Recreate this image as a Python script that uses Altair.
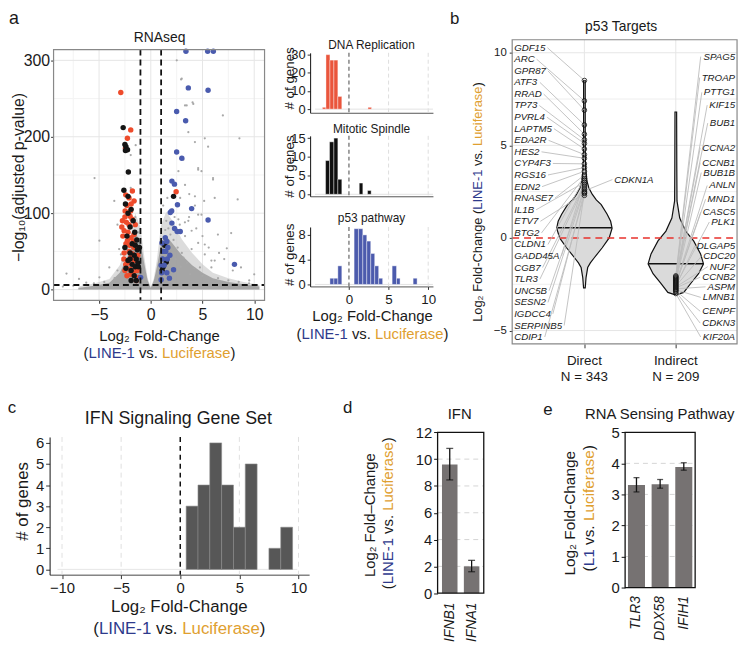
import altair as alt
import pandas as pd

W, H = 741, 644
M = 8
FONT = "Liberation Sans"
INK = "#1a1a1a"
C_L1 = "#2E3A8C"
C_LUC = "#DFA030"
C_RED = "#EE4B2B"
C_BLK = "#141414"
C_BLU = "#4A5BAE"
C_BAR = "#767272"
C_HIST = "#575757"

# ---------------- data: panel a volcano ----------------
grey_x = [-5.44, -3.53, -4.97, -6.94, -8.15, -3.06, 2.51, 2.93, 3.47, 4.04, 3.63, 4.27, 4.58, 5.22, 6.02, 6.97,
          8.57, 8.4, 7.77, 7.35, 10.0, 2.67, 4.9, 5.22, 3.95, 4.58, 6.18, 3.15, 2.51, 5.16, 3.72, 4.27, 3.31,
          5.86, 8.72, 7.93, 9.52, -4.97, -3.22, -2.74, -4.01, -6.24, -1.94, -1.46, -1.94, -1.46, 2.99, 4.11,
          3.31, 5.54, 4.58, 4.9, 6.02, 2.67, 3.31, 4.27, 2.84, 6.18, 4.58, 3.63, 6.49, 5.22, 3.95, 3.15, 5.86,
          4.75, -3.22, -2.89, 1.5, 1.7, 1.9, 2.2, 1.4, 2.6, 3.0, 2.4, 3.5, 1.8, 2.9, 4.2, 3.8, 5.0, 6.5, 7.5,
          8.5, 9.5, -1.2, -1.0, -0.9, -1.5, -2.9, -3.5, -4.5, -5.5, -6.5, -7.5, -8.5, 1.2, 1.6, 2.1, 2.3, 2.8,
          3.3, 3.7, 4.4, 5.0, 5.6, 6.6, 7.1]
grey_y = [146, 116, 16, 14, 21, 53, 300, 275, 241, 245, 206, 193, 157, 198, 144, 228,
          198, 118, 74, 54, 20, 92, 98, 46, 77, 61, 38, 170, 180, 116, 125, 110, 70,
          29, 29, 25, 12, 64, 85, 38, 29, 9, 176, 189, 133, 116, 276, 243,
          241, 187, 159, 155, 146, 155, 137, 122, 120, 120, 98, 90, 72, 59, 53, 42, 38,
          29, 25, 46, 90, 80, 72, 65, 78, 55, 48, 40, 35, 45, 30, 28, 20, 18, 15, 12,
          10, 8, 75, 60, 45, 95, 20, 15, 10, 8, 6, 5, 4, 110, 120, 105, 95, 85,
          88, 95, 80, 70, 55, 48, 40]
red_x = [-2.9, -1.94, -2.26, -2.45, -1.78, -2.42, -1.62, -2.48, -1.95, -2.74, -2.1, -2.58, -1.62, -2.26, -1.62,
         -2.58, -1.94, -2.42, -1.46, -1.94, -1.15, -1.4, -2.3, -2.0, -1.8, -2.5, -2.2, -1.9, -2.4, -1.7, -2.1,
         -1.8, -2.6, -2.2, -1.6, -2.0, -1.7, -2.3, -1.3, -1.25, -2.1, -1.9, 2.45, -2.7, -2.8, -2.35, -1.5,
         -2.05, -2.5]
red_y = [258, 209, 198, 185, 129, 124, 116, 103, 103, 90, 85, 77, 72, 64, 55,
         48, 42, 33, 29, 20, 16, 12, 110, 96, 92, 95, 75, 68, 60, 63, 50,
         47, 40, 35, 38, 27, 22, 18, 25, 45, 120, 112, 128, 70, 82, 88, 85,
         58, 25]
blk_x = [-2.67, -2.5, -2.4, -2.25, -2.45, -2.17, -2.6, -2.2, -2.45, -1.9, -2.2, -1.7, -2.0, -1.55, -2.3, -1.35,
         -1.8, -1.5, -2.5, -1.3, -2.0, -1.6, -1.4, -2.2, -1.8, -1.5, -2.4, -1.2, -1.9, -1.6, -1.4, -1.9, 2.2,
         1.35, 1.5, 1.2, 1.1, -1.1, -1.25, -2.0]
blk_y = [212, 190, 187, 183, 182, 154, 130, 122, 112, 105, 100, 90, 82, 75, 70, 65,
         60, 58, 55, 52, 48, 45, 40, 38, 33, 30, 28, 30, 25, 18, 12, 12, 122,
         58, 36, 30, 25, 55, 35, 40]
blu_x = [3.4, 5.5, 6.05, 3.63, 5.54, 2.5, 3.37, 2.5, 3.0, 2.04, 2.29, 2.58, 3.95, 1.88, 2.02, 5.54, 2.04, 2.3,
         2.55, 2.85, 1.08, 1.55, 1.65, 1.2, 1.45, 1.15, 1.6, 1.3, 1.0, 1.05, 1.55, 1.0, 2.2, 1.8, 8.09, -0.98,
         1.4, 1.85]
blu_y = [312, 312, 312, 264, 261, 233, 221, 180, 172, 142, 138, 111, 106, 101, 103, 91, 87, 80,
         76, 76, 61, 63, 55, 50, 50, 40, 40, 32, 32, 22, 22, 13, 26, 15, 33, 16,
         68, 45]
band_x = [-7.0, -5.5, -4.0, -3.0, -2.0, -1.5, -1.0, -0.6, -0.3, 0.0, 0.3, 0.6, 1.0, 1.5, 2.0, 3.0, 4.0, 5.0,
          6.0, 7.5, 9.0, 10.5]
band_top = [2, 5, 9, 22, 50, 75, 62, 32, 12, 2, 12, 30, 60, 70, 62, 45, 32, 22, 15, 10, 7, 4]
halo_top = [4, 8, 14, 32, 68, 100, 82, 40, 15, 3, 15, 40, 85, 102, 92, 66, 48, 33, 22, 15, 10, 6]

# ---------------- data: panel a histograms ----------------
dna_x0 = [-3.35, -2.9, -2.4, -1.9, -1.4, 2.4]
dna_x1 = [-2.9, -2.4, -1.9, -1.4, -0.9, 2.85]
dna_n = [1, 30, 27, 27, 7, 1]
mit_x0 = [-2.95, -2.45, -1.9, -1.4, 1.3, 2.35]
mit_x1 = [-2.45, -1.9, -1.4, -0.9, 1.75, 2.8]
mit_n = [9, 14, 15, 4, 3, 1]
p53_x0 = [-2.4, -1.9, -1.4, 0.65, 1.2, 1.75, 2.25, 2.75, 3.25, 3.75, 5.45, 6.0, 8.1]
p53_x1 = [-1.9, -1.4, -0.9, 1.2, 1.75, 2.25, 2.75, 3.25, 3.75, 4.25, 6.0, 6.45, 8.6]
p53_n = [1, 1, 3, 9, 9, 8, 7, 5, 3, 1, 3, 1, 1]

# ---------------- data: panel b violins ----------------
dir_v = [8.5, 6.0, 4.5, 3.75, 3.05, 2.7, 2.35, 2.05, 1.8, 1.28, 0.9, 0.53, 0.0, -0.53, -1.07, -1.35, -1.6,
         -2.14, -2.7]
dir_hw = [0.009, 0.009, 0.01, 0.013, 0.029, 0.049, 0.087, 0.13, 0.184, 0.249, 0.287, 0.303, 0.271, 0.195,
          0.108, 0.065, 0.036, 0.018, 0.009]
ind_v = [6.8, 3.7, 2.0, 1.07, 0.37, -0.16, -0.86, -1.4, -1.93, -2.46, -2.94, -3.05]
ind_hw = [0.009, 0.011, 0.013, 0.043, 0.108, 0.195, 0.271, 0.303, 0.249, 0.163, 0.087, 0.022]
med_g = [1, 2]
med_v = [0.55, -1.4]
med_hw = [0.30, 0.30]
dir_pts = [8.5, 7.4, 6.9, 6.1, 5.6, 5.3, 5.1, 4.8, 4.5, 4.3, 4.0, 3.8, 3.6, 3.4, 3.3, 3.2, 3.1, 3.0, 2.9, 2.8,
           2.7, 2.6, 2.5, 2.45, 2.4, 2.3]
ind_pts = [-2.05, -2.1, -2.15, -2.2, -2.25, -2.3, -2.35, -2.4, -2.45, -2.5, -2.55, -2.6, -2.65, -2.7, -2.75,
           -2.8, -2.85, -2.9, -3.0]
left_genes = ["GDF15", "ARC", "GPR87", "ATF3", "RRAD", "TP73", "PVRL4", "LAPTM5", "EDA2R", "HES2", "CYP4F3",
              "RGS16", "EDN2", "RNASE7", "IL1B", "ETV7", "BTG2", "CLDN1", "GADD45A", "CGB7", "TLR3", "UNC5B",
              "SESN2", "IGDCC4", "SERPINB5", "CDIP1"]
left_y = [10.27, 9.65, 9.02, 8.40, 7.77, 7.15, 6.52, 5.90, 5.27, 4.65, 4.02, 3.40, 2.77, 2.15, 1.52, 0.90,
          0.27, -0.35, -0.98, -1.60, -2.23, -2.85, -3.48, -4.10, -4.73, -5.35]
left_target = [8.5, 7.4, 6.9, 6.1, 5.6, 5.3, 5.1, 4.8, 4.5, 4.3, 4.0, 3.8, 3.6, 3.4, 3.0, 2.4, 3.3, 3.2, 3.1,
               2.9, 2.8, 2.7, 2.6, 2.5, 2.45, 2.3]
right_genes = ["SPAG5", "TROAP", "PTTG1", "KIF15", "BUB1", "CCNA2", "CCNB1", "BUB1B", "ANLN", "MND1", "CASC5",
               "PLK1", "DLGAP5", "CDC20", "NUF2", "CCNB2", "ASPM", "LMNB1", "CENPF", "CDKN3", "KIF20A"]
right_y = [9.79, 8.66, 7.86, 7.17, 6.20, 4.87, 4.06, 3.53, 2.83, 2.09, 1.39, 0.86, -0.43, -1.0, -1.55, -2.12,
           -2.64, -3.21, -3.96, -4.60, -5.35]
right_target = [-2.05, -2.1, -2.15, -2.2, -2.25, -2.3, -2.35, -2.4, -2.45, -2.5, -2.5, -2.55, -2.6, -2.6,
                -2.65, -2.7, -2.75, -2.8, -2.85, -2.9, -3.0]
cdk_gene = ["CDKN1A"]
cdk_lx = [1.326]
cdk_ly = [3.15]
cdk_px = [1.03]
cdk_py = [2.6]
groups = [1, 2]
group_name = ["Direct", "Indirect"]
group_n = ["N = 343", "N = 209"]

# ---------------- data: panel c ----------------
ifn_x0 = [0.5, 1.5, 2.5, 3.5, 4.5, 5.5, 7.5, 8.5]
ifn_x1 = [1.5, 2.5, 3.5, 4.5, 5.5, 6.5, 8.5, 9.5]
ifn_n = [3, 4, 6, 4, 2, 5, 1, 2]

# ---------------- data: panels d, e ----------------
d_genes = ["IFNB1", "IFNA1"]
d_val = [9.6, 2.0]
d_lo = [8.45, 1.6]
d_hi = [10.8, 2.45]
e_genes = ["TLR3", "DDX58", "IFIH1"]
e_val = [3.3, 3.33, 3.88]
e_lo = [3.08, 3.2, 3.78]
e_hi = [3.54, 3.48, 4.02]

# ---------------- helpers ----------------
AW = dict(zip("ABCDEFGHIJKLMNOPQRSTUVWXYZ",
              [667, 667, 722, 722, 667, 611, 778, 722, 278, 500, 667, 556, 833, 722, 778, 667, 778, 722, 667,
               611, 722, 667, 944, 667, 667, 611]))
AW.update(zip("abcdefghijklmnopqrstuvwxyz",
              [556, 556, 500, 556, 556, 278, 556, 556, 222, 222, 500, 222, 833, 556, 556, 556, 556, 333, 500,
               278, 556, 500, 722, 500, 500, 500]))
AW.update({d: 556 for d in "0123456789"})
AW.update({" ": 278, "(": 333, ")": 333, "-": 333, ".": 278, "=": 584, "#": 556, "\u2082": 400})


def tw(s, size):
    return sum(AW.get(c, 556) for c in s) * size / 1000.0


def P(v):
    return v - M


def S(dom, rng):
    return alt.Scale(domain=dom, range=[P(rng[0]), P(rng[1])], nice=False, zero=False)


ONE = pd.DataFrame({"k": [0]})
L = []


def T(t, x, y, size, color=INK, angle=0, align="center", baseline="middle", italic=False):
    kw = dict(text=t, fontSize=size, color=color, align=align, baseline=baseline, font=FONT)
    if angle:
        kw["angle"] = angle
    if italic:
        kw["fontStyle"] = "italic"
    L.append(alt.Chart(ONE).mark_text(**kw).encode(x=alt.value(P(x)), y=alt.value(P(y))))


def HL(segs, cx, y, size):
    total = sum(tw(s, size) for s, _ in segs)
    x = cx - total / 2.0
    for s, c in segs:
        lead = tw(s[: len(s) - len(s.lstrip())], size)
        T(s.strip(), x + lead, y, size, color=c, align="left")
        x += tw(s, size)


def VLN(segs, x, cy, size):
    widths = [tw(s, size) for s, _ in segs]
    y = cy + sum(widths) / 2.0
    s0, c0 = segs[0]
    y_after0 = y - widths[0]
    trail = tw(s0[len(s0.rstrip()):], size)
    T(s0.strip(), x, y_after0 + trail, size, color=c0, angle=270, align="right")
    y = y_after0
    for (s, c), w in zip(segs[1:], widths[1:]):
        lead = tw(s[: len(s) - len(s.lstrip())], size)
        T(s.strip(), x, y - lead, size, color=c, angle=270, align="left")
        y -= w


def AXB(y_ref, values, size=14, **kw):
    base = dict(orient="bottom", offset=P(y_ref) - H, values=values, title=None, grid=False,
                labelFontSize=size, labelFont=FONT, labelColor=INK, tickColor="#333333",
                domainColor="#333333", labelFlush=False, labelOverlap=False, tickSize=3, labelPadding=3)
    base.update(kw)
    return alt.Axis(**base)


def AXL(x_ref, values, size=14, **kw):
    base = dict(orient="left", offset=-P(x_ref), values=values, title=None, grid=False,
                labelFontSize=size, labelFont=FONT, labelColor=INK, tickColor="#333333",
                domainColor="#333333", labelFlush=False, labelOverlap=False, tickSize=3, labelPadding=2)
    base.update(kw)
    return alt.Axis(**base)


def vrules(vals, xs, y0, y1, color, width=1.0, dash=None, axis=None):
    mk = dict(color=color, strokeWidth=width)
    if dash:
        mk["strokeDash"] = dash
    L.append(alt.Chart(pd.DataFrame({"v": vals})).mark_rule(**mk).encode(
        x=alt.X("v:Q", scale=xs, axis=axis), y=alt.value(P(y0)), y2=alt.value(P(y1))))


def hrules(vals, ys, x0, x1, color, width=1.0, dash=None, axis=None):
    mk = dict(color=color, strokeWidth=width)
    if dash:
        mk["strokeDash"] = dash
    L.append(alt.Chart(pd.DataFrame({"v": vals})).mark_rule(**mk).encode(
        y=alt.Y("v:Q", scale=ys, axis=axis), x=alt.value(P(x0)), x2=alt.value(P(x1))))


def box(x0, x1, y0, y1, color, width=1.0):
    L.append(alt.Chart(ONE).mark_rect(fill="white", fillOpacity=0, stroke=color, strokeWidth=width).encode(
        x=alt.value(P(x0)), x2=alt.value(P(x1)), y=alt.value(P(y0)), y2=alt.value(P(y1))))


def rects(x0, x1, n, xs, ys, color, stroke=None, sw=0.6, xaxis=None, yaxis=None):
    mk = dict(color=color)
    if stroke:
        mk.update(stroke=stroke, strokeWidth=sw)
    df = pd.DataFrame({"a": x0, "b": x1, "n": n})
    L.append(alt.Chart(df).mark_rect(**mk).encode(
        x=alt.X("a:Q", scale=xs, axis=xaxis), x2="b:Q",
        y=alt.Y("n:Q", scale=ys, axis=yaxis), y2=alt.datum(0)))


def points(xv, yv, xs, ys, color, size, filled=True, sw=0.8):
    df = pd.DataFrame({"x": xv, "y": yv})
    if filled:
        mk = dict(filled=True, color=color, size=size, opacity=1, strokeWidth=0)
    else:
        mk = dict(filled=False, color=color, size=size, strokeWidth=sw, opacity=1)
    L.append(alt.Chart(df).mark_point(shape="circle", **mk).encode(
        x=alt.X("x:Q", scale=xs, axis=None), y=alt.Y("y:Q", scale=ys, axis=None)))


LOFC = "Log\u2082 Fold-Change"
L1LUC = [("(", INK), ("LINE-1", C_L1), (" vs. ", INK), ("Luciferase", C_LUC), (")", INK)]

# ======================= panel a: volcano =======================
XA = lambda: S([-9.4, 11.0], [54, 267])
YA = lambda: S([-14, 314], [300, 47])
vrules([-7.5, -2.5, 2.5, 7.5], XA(), 47, 300, "#F3F3F3")
hrules([50, 150, 250], YA(), 54, 267, "#F3F3F3")
vrules([-5, 0, 5, 10], XA(), 47, 300, "#E6E6E6",
       axis=AXB(300, [-5, 0, 5, 10], 16, domain=False, labelPadding=3))
hrules([0, 100, 200, 300], YA(), 54, 267, "#E6E6E6",
       axis=AXL(54, [0, 100, 200, 300], 16, domain=False, labelPadding=1))
L.append(alt.Chart(pd.DataFrame({"x": band_x, "t": halo_top})).mark_area(color="#C4C4C4", opacity=0.6).encode(
    x=alt.X("x:Q", scale=XA(), axis=None), y=alt.Y("t:Q", scale=YA(), axis=None), y2=alt.datum(0)))
L.append(alt.Chart(pd.DataFrame({"x": band_x, "t": band_top})).mark_area(color="#9E9E9E", opacity=0.9).encode(
    x=alt.X("x:Q", scale=XA(), axis=None), y=alt.Y("t:Q", scale=YA(), axis=None), y2=alt.datum(0)))
points(grey_x, grey_y, XA(), YA(), "#A8A8A8", 5)
points(red_x, red_y, XA(), YA(), C_RED, 30)
points(blk_x, blk_y, XA(), YA(), C_BLK, 30)
points(blu_x, blu_y, XA(), YA(), C_BLU, 30)
vrules([-1, 1], XA(), 47, 300, "#111111", width=1.8, dash=[6, 4])
hrules([6], YA(), 54, 267, "#111111", width=1.8, dash=[6, 4])
box(54, 267, 47, 300, "#888888", 1.2)
T("a", 14, 16, 18)
T("RNAseq", 161, 35, 14)
T("\u2212log\u2081\u2080(adjusted p-value)", 19, 176, 16, angle=270)
T(LOFC, 161, 336, 15)
HL(L1LUC, 161, 353, 15)

# ======================= panel a: histograms =======================
XH = lambda: S([-4.9, 10.6], [313, 437])
hist = [
    ("DNA Replication", dna_x0, dna_x1, dna_n, "#EA553C", [-2, 31], [110.7, 50.2], [0, 10, 20, 30], 42, 76),
    ("Mitotic Spindle", mit_x0, mit_x1, mit_n, "#0F0F0F", [-0.53, 15.6], [195, 134], [0, 5, 10, 15], 127, 165),
    ("p53 pathway", p53_x0, p53_x1, p53_n, "#4C5BAD", [-0.32, 9.28], [286, 226], [0, 4, 8], 217, 254),
]
for i, (ttl, x0, x1, n, col, ydom, yr, yt, ty, gy) in enumerate(hist):
    YH = lambda ydom=ydom, yr=yr: S(ydom, yr)
    top, bot = yr[1], yr[0]
    vrules([5, 10], XH(), top, bot, "#DEDEDE", dash=[4, 3])
    hrules([0], YH(), 318, 437, "#E3E3E3", width=1.0)
    last = i == 2
    rects(x0, x1, n, XH(), YH(), col, stroke="#FFFFFF", sw=0.4,
          xaxis=AXB(bot, [0, 5, 10], 13.5, labels=last, ticks=last, domainColor="#555555"),
          yaxis=AXL(313, yt, 13, domainColor="#111111"))
    vrules([0], XH(), top, bot, "#666666", width=1.2, dash=[4, 3])
    T(ttl, 375, ty, 12)
    T("# of genes", 293, gy, 13.5, angle=270)
T(LOFC, 376, 316, 15)
HL(L1LUC, 376, 334, 15)

# ======================= panel b: violins =======================
XB = lambda: S([0.21, 2.67], [517, 744])
YB = lambda: S([-5.72, 10.7], [344, 37])
hrules([-2.5, 2.5, 7.5], YB(), 517, 744, "#EEEEEE")
hrules([-5, 5, 10], YB(), 517, 744, "#E6E6E6", axis=AXL(517, [-5, 0, 5, 10], 11.5, domain=False, labelPadding=3))
vrules([1, 2], XB(), 37, 344, "#E6E6E6", axis=AXB(344, [1, 2], 12, labels=False, domain=False, tickSize=4))
for center, vv, hw in [(1, dir_v, dir_hw), (2, ind_v, ind_hw)]:
    df = pd.DataFrame({"v": vv, "lo": [center - h for h in hw], "hi": [center + h for h in hw]})
    L.append(alt.Chart(df).mark_area(orient="horizontal", color="#DADADA", stroke="#111111",
                                     strokeWidth=1.2).encode(
        y=alt.Y("v:Q", scale=YB(), axis=None), x=alt.X("lo:Q", scale=XB(), axis=None), x2="hi:Q"))
dfm = pd.DataFrame({"lo": [g - h for g, h in zip(med_g, med_hw)], "hi": [g + h for g, h in zip(med_g, med_hw)],
                    "v": med_v})
L.append(alt.Chart(dfm).mark_rule(color="#111111", strokeWidth=1.5).encode(
    x=alt.X("lo:Q", scale=XB(), axis=None), x2="hi:Q", y=alt.Y("v:Q", scale=YB(), axis=None)))
hrules([0], YB(), 517, 744, "#E8322C", width=1.6, dash=[7, 5])
PXU = 227 / 2.46
U_LEFT = 0.21 + 2 / PXU
U_RIGHT = 0.21 + 225 / PXU
LFS = 9.8
con = pd.DataFrame({
    "x0": [U_LEFT + (tw(g, LFS) + 2) / PXU for g in left_genes]
          + [U_RIGHT - (tw(g, LFS) + 2) / PXU for g in right_genes] + [c - 0.02 for c in cdk_lx],
    "y0": left_y + right_y + cdk_ly,
    "x1": [1.0] * len(left_genes) + [2.0] * len(right_genes) + cdk_px,
    "y1": left_target + right_target + cdk_py,
})
L.append(alt.Chart(con).mark_rule(color="#BDBDBD", strokeWidth=0.9).encode(
    x=alt.X("x0:Q", scale=XB(), axis=None), x2="x1:Q", y=alt.Y("y0:Q", scale=YB(), axis=None), y2="y1:Q"))
points([1.0] * len(dir_pts), dir_pts, XB(), YB(), "#111111", 22, filled=False)
points([2.0] * len(ind_pts), ind_pts, XB(), YB(), "#111111", 22, filled=False)
for genes, xs_, ys_, al in [(left_genes, [U_LEFT] * len(left_genes), left_y, "left"),
                            (right_genes, [U_RIGHT] * len(right_genes), right_y, "right"),
                            (cdk_gene, cdk_lx, cdk_ly, "left")]:
    lab = pd.DataFrame({"g": genes, "x": xs_, "y": ys_})
    L.append(alt.Chart(lab).mark_text(align=al, baseline="middle", fontSize=LFS, fontStyle="italic",
                                      font=FONT, color=INK).encode(
        x=alt.X("x:Q", scale=XB(), axis=None), y=alt.Y("y:Q", scale=YB(), axis=None), text="g:N"))
grp = pd.DataFrame({"x": groups, "a": group_name, "b": group_n})
L.append(alt.Chart(grp).mark_text(fontSize=13.5, font=FONT, color=INK, baseline="middle").encode(
    x=alt.X("x:Q", scale=XB(), axis=None), y=alt.value(P(361)), text="a:N"))
L.append(alt.Chart(grp).mark_text(fontSize=13.5, font=FONT, color=INK, baseline="middle").encode(
    x=alt.X("x:Q", scale=XB(), axis=None), y=alt.value(P(377)), text="b:N"))
box(517, 744, 37, 344, "#888888", 1.2)
T("b", 459, 16, 17)
T("p53 Targets", 627, 24, 14)
VLN([("Log\u2082 Fold-Change (", INK), ("LINE-1", C_L1), (" vs. ", INK), ("Luciferase", C_LUC), (")", INK)],
    483, 201, 13)

# ======================= panel c =======================
XC = lambda: S([-11.05, 10.9], [50, 312])
YC = lambda: S([-0.25, 6.28], [577, 438])
vrules([-10, -5, 5, 10], XC(), 438, 577, "#E0E0E0", dash=[5, 4])
hrules([0], YC(), 58, 300, "#E6E6E6")
rects(ifn_x0, ifn_x1, ifn_n, XC(), YC(), C_HIST, stroke="#8A8A8A", sw=0.6,
      xaxis=AXB(577, [-10, -5, 0, 5, 10], 15, domainColor="#444444", tickSize=4, labelPadding=2),
      yaxis=AXL(50, [0, 1, 2, 3, 4, 5, 6], 15, domainColor="#111111", tickSize=4))
vrules([0], XC(), 438, 577, "#111111", width=1.5, dash=[5, 4])
T("c", 12, 409, 17)
T("IFN Signaling Gene Set", 180, 420, 18)
T("# of genes", 23, 503, 17, angle=270)
T(LOFC, 181, 610, 17)
HL(L1LUC, 181, 632, 17)

# ======================= panel d =======================
XD = lambda: alt.Scale(domain=d_genes, range=[P(441.7), P(488.3)], paddingInner=0.29, paddingOuter=0.2)
YD = lambda: S([0, 12], [595.7, 433.3])
hrules([2, 4, 6, 8, 10], YD(), 441.7, 488.3, "#D5D5D5", dash=[5, 4])
dfd = pd.DataFrame({"g": d_genes, "v": d_val, "lo": d_lo, "hi": d_hi})
L.append(alt.Chart(dfd).mark_bar(color=C_BAR).encode(
    x=alt.X("g:N", scale=XD(), sort=d_genes,
            axis=AXB(595.7, d_genes, 14, labelAngle=270, labelAlign="right", labelBaseline="middle",
                     labelFontStyle="italic", ticks=False, domain=False, labelPadding=9)),
    y=alt.Y("v:Q", scale=YD(), axis=AXL(441.7, [0, 2, 4, 6, 8, 10, 12], 15, domain=False, tickSize=4,
                                        tickColor="#111111")),
    y2=alt.datum(0)))
L.append(alt.Chart(dfd).mark_rule(color="#111111", strokeWidth=1.3).encode(
    x=alt.X("g:N", scale=XD(), sort=d_genes, axis=None), y=alt.Y("lo:Q", scale=YD(), axis=None), y2="hi:Q"))
for f in ["lo", "hi"]:
    L.append(alt.Chart(dfd).mark_tick(color="#111111", thickness=1.3, size=7, orient="horizontal").encode(
        x=alt.X("g:N", scale=XD(), sort=d_genes, axis=None), y=alt.Y(f + ":Q", scale=YD(), axis=None)))
box(441.7, 488.3, 433.3, 595.7, "#111111", 1.3)
T("d", 351, 409, 17)
T("IFN", 464, 415, 15)
T("Log\u2082 Fold\u2013Change", 373, 517, 15, angle=270)
VLN(L1LUC, 392, 515, 15)

# ======================= panel e =======================
XE = lambda: alt.Scale(domain=e_genes, range=[P(631), P(701.7)], paddingInner=0.28, paddingOuter=0.12)
YE = lambda: S([0, 5], [590, 433.3])
hrules([1, 2, 3, 4], YE(), 631, 701.7, "#D5D5D5", dash=[5, 4])
dfe = pd.DataFrame({"g": e_genes, "v": e_val, "lo": e_lo, "hi": e_hi})
L.append(alt.Chart(dfe).mark_bar(color=C_BAR).encode(
    x=alt.X("g:N", scale=XE(), sort=e_genes,
            axis=AXB(590, e_genes, 14, labelAngle=270, labelAlign="right", labelBaseline="middle",
                     labelFontStyle="italic", ticks=False, domain=False, labelPadding=8)),
    y=alt.Y("v:Q", scale=YE(), axis=AXL(631, [0, 1, 2, 3, 4, 5], 15, domain=False, tickSize=4,
                                        tickColor="#111111")),
    y2=alt.datum(0)))
L.append(alt.Chart(dfe).mark_rule(color="#111111", strokeWidth=1.3).encode(
    x=alt.X("g:N", scale=XE(), sort=e_genes, axis=None), y=alt.Y("lo:Q", scale=YE(), axis=None), y2="hi:Q"))
for f in ["lo", "hi"]:
    L.append(alt.Chart(dfe).mark_tick(color="#111111", thickness=1.3, size=6, orient="horizontal").encode(
        x=alt.X("g:N", scale=XE(), sort=e_genes, axis=None), y=alt.Y(f + ":Q", scale=YE(), axis=None)))
box(631, 701.7, 433.3, 590, "#111111", 1.3)
T("e", 553, 411, 17)
T("RNA Sensing Pathway", 666, 415, 15)
T(LOFC, 575, 515, 15.5, angle=270)
VLN([("(", INK), ("L1", C_L1), (" vs. ", INK), ("Luciferase", C_LUC), (")", INK)], 595, 510, 15.5)

chart = alt.layer(*L).resolve_scale(x="independent", y="independent").properties(
    width=W, height=H, padding=0, autosize=alt.AutoSizeParams(type="none")
).configure_view(stroke=None)

chart.save("out.html", embed_options={"renderer": "svg", "actions": False})
